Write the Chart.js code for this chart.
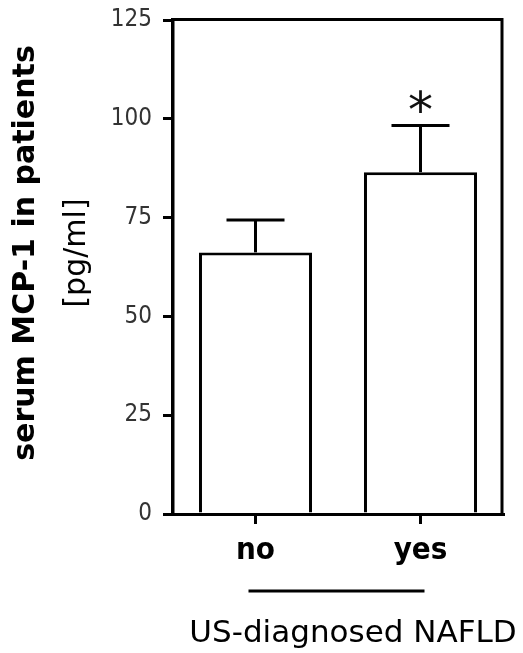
<!DOCTYPE html>
<html><head><meta charset="utf-8">
<script src="https://cdn.jsdelivr.net/npm/chart.js@4"></script>
<style>html,body{margin:0;padding:0;background:#fff}canvas{display:block}</style>
</head><body>
<canvas id="c" width="523" height="653"></canvas>
<script>
const categories = ['no', 'yes'];
const meanValues = [66.2, 86.5];
const semValues = [8.2, 11.8];
const significance = ['', '*'];
const yTicks = [0, 25, 50, 75, 100, 125];
const yTitleLines = ['serum MCP-1 in patients', '[pg/ml]'];
const xTitle = 'US-diagnosed NAFLD';

const COND = "'DejaVu Sans Condensed', 'DejaVu Sans', sans-serif";
const DV = "'DejaVu Sans', sans-serif";

const annot = {
  id: 'annot',
  afterDatasetsDraw(chart) {
    const {ctx, scales: {x, y}, chartArea: a} = chart;
    ctx.save();
    ctx.strokeStyle = '#000';
    ctx.lineWidth = 3;
    ctx.lineCap = 'butt';
    // top and right frame
    ctx.beginPath();
    ctx.moveTo(a.left, a.top - 0.5);
    ctx.lineTo(a.right - 1, a.top - 0.5);
    ctx.lineTo(a.right - 1, a.bottom);
    ctx.stroke();
    // error bars (upper)
    meanValues.forEach((m, i) => {
      const cx = x.getPixelForValue(i);
      const yTop = y.getPixelForValue(m);
      const yErr = y.getPixelForValue(m + semValues[i]);
      ctx.beginPath(); ctx.moveTo(cx, yTop); ctx.lineTo(cx, yErr); ctx.stroke();
      ctx.beginPath(); ctx.moveTo(cx - 29, yErr); ctx.lineTo(cx + 29, yErr); ctx.stroke();
      if (significance[i]) {
        ctx.fillStyle = '#111';
        ctx.font = '50px ' + DV;
        const mt = ctx.measureText(significance[i]);
        const w = mt.actualBoundingBoxLeft + mt.actualBoundingBoxRight;
        const h = mt.actualBoundingBoxAscent + mt.actualBoundingBoxDescent;
        const tx = cx - w / 2 + mt.actualBoundingBoxLeft;
        const cyc = yErr - 24;
        const ty = cyc + h / 2 - mt.actualBoundingBoxDescent;
        ctx.textAlign = 'left';
        ctx.textBaseline = 'alphabetic';
        ctx.fillText(significance[i], tx, ty);
      }
    });
    // underline beneath categories
    ctx.lineWidth = 3;
    ctx.beginPath();
    ctx.moveTo(x.getPixelForValue(0) - 7, 591);
    ctx.lineTo(x.getPixelForValue(1) + 4, 591);
    ctx.stroke();
    // x title
    ctx.fillStyle = '#000';
    ctx.font = '31px ' + DV;
    ctx.textAlign = 'center';
    ctx.textBaseline = 'alphabetic';
    ctx.fillText(xTitle, 353, 642);
    // y title (two lines, rotated)
    ctx.save();
    ctx.translate(34, 253);
    ctx.rotate(-Math.PI / 2);
    ctx.font = 'bold 30px ' + DV;
    ctx.fillText(yTitleLines[0], 0, 0);
    ctx.restore();
    ctx.save();
    ctx.translate(85, 253);
    ctx.rotate(-Math.PI / 2);
    ctx.font = '30px ' + DV;
    ctx.fillText(yTitleLines[1], 0, 0);
    ctx.restore();
    ctx.restore();
  }
};

new Chart(document.getElementById('c'), {
  type: 'bar',
  data: {
    labels: categories,
    datasets: [{
      data: meanValues,
      backgroundColor: '#fff',
      borderColor: '#000',
      borderWidth: 3,
      borderSkipped: 'start',
      barPercentage: 0.685,
      categoryPercentage: 1
    }]
  },
  options: {
    responsive: false,
    animation: false,
    devicePixelRatio: 1,
    layout: {padding: {top: 20, right: 20, left: 0, bottom: 0}},
    plugins: {legend: {display: false}, tooltip: {enabled: false}},
    scales: {
      x: {
        offset: true,
        grid: {offset: false, drawOnChartArea: false, drawTicks: true, tickLength: 10, color: '#000', lineWidth: 3},
        border: {display: true, color: '#000', width: 3},
        ticks: {color: '#000', padding: 8, font: {family: COND, size: 31, weight: 'bold'}},
        afterFit: s => { s.height = 139; s.paddingLeft = 0; s.paddingRight = 0; }
      },
      y: {
        min: 0, max: 125,
        afterBuildTicks: s => { s.ticks = yTicks.map(v => ({value: v})); },
        grid: {drawOnChartArea: false, drawTicks: true, tickLength: 10, color: '#000', lineWidth: 3},
        border: {display: true, color: '#000', width: 3.5},
        ticks: {color: '#333', padding: 11, font: {family: COND, size: 24}},
        afterFit: s => { s.width = 173; s.paddingTop = 0; s.paddingBottom = 0; }
      }
    }
  },
  plugins: [annot]
});
</script>
</body></html>
